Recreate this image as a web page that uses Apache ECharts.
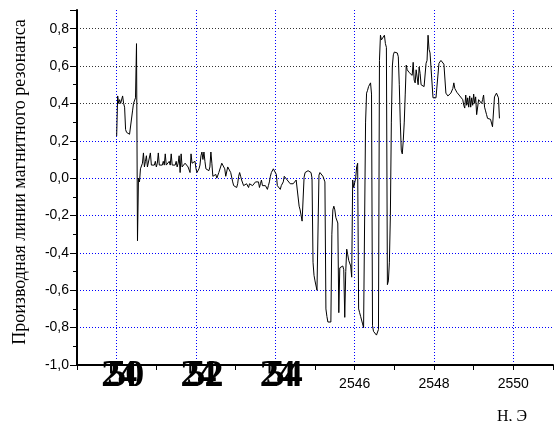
<!DOCTYPE html>
<html>
<head>
<meta charset="utf-8">
<script src="https://cdn.jsdelivr.net/npm/echarts@6/dist/echarts.min.js"></script>
<style>html,body{margin:0;padding:0;background:#fff;}#chart{width:556px;height:421px;}</style>
</head>
<body>
<div id="chart"></div>
<script>
// Field H, Oe
const fieldH = [
2540,2540.025,2540.05,2540.075,2540.1,2540.125,2540.15,2540.175,2540.2,2540.225,2540.25,2540.275,2540.3,2540.325,2540.35,2540.375,2540.4,2540.425,2540.45,2540.475,2540.5,2540.525,2540.55,2540.575,2540.6,2540.625,2540.65,2540.675,2540.7,2540.725,2540.75,2540.775,2540.8,2540.825,2540.85,2540.875,2540.9,2540.925,2540.95,2540.975,
2541,2541.025,2541.05,2541.075,2541.1,2541.125,2541.15,2541.175,2541.2,2541.225,2541.25,2541.275,2541.3,2541.325,2541.35,2541.375,2541.4,2541.425,2541.45,2541.475,2541.5,2541.525,2541.55,2541.575,2541.6,2541.625,2541.65,2541.675,2541.7,2541.725,2541.75,2541.775,2541.8,2541.825,2541.85,2541.875,2541.9,2541.925,2541.95,2541.975,
2542,2542.025,2542.05,2542.075,2542.1,2542.125,2542.15,2542.175,2542.2,2542.225,2542.25,2542.275,2542.3,2542.325,2542.35,2542.375,2542.4,2542.425,2542.45,2542.475,2542.5,2542.525,2542.55,2542.575,2542.6,2542.625,2542.65,2542.675,2542.7,2542.725,2542.75,2542.775,2542.8,2542.825,2542.85,2542.875,2542.9,2542.925,2542.95,2542.975,
2543,2543.025,2543.05,2543.075,2543.1,2543.125,2543.15,2543.175,2543.2,2543.225,2543.25,2543.275,2543.3,2543.325,2543.35,2543.375,2543.4,2543.425,2543.45,2543.475,2543.5,2543.525,2543.55,2543.575,2543.6,2543.625,2543.65,2543.675,2543.7,2543.725,2543.75,2543.775,2543.8,2543.825,2543.85,2543.875,2543.9,2543.925,2543.95,2543.975,
2544,2544.025,2544.05,2544.075,2544.1,2544.125,2544.15,2544.175,2544.2,2544.225,2544.25,2544.275,2544.3,2544.325,2544.35,2544.375,2544.4,2544.425,2544.45,2544.475,2544.5,2544.525,2544.55,2544.575,2544.6,2544.625,2544.65,2544.675,2544.7,2544.725,2544.75,2544.775,2544.8,2544.825,2544.85,2544.875,2544.9,2544.925,2544.95,2544.975,
2545,2545.025,2545.05,2545.075,2545.1,2545.125,2545.15,2545.175,2545.2,2545.225,2545.25,2545.275,2545.3,2545.325,2545.35,2545.375,2545.4,2545.425,2545.45,2545.475,2545.5,2545.525,2545.55,2545.575,2545.6,2545.625,2545.65,2545.675,2545.7,2545.725,2545.75,2545.775,2545.8,2545.825,2545.85,2545.875,2545.9,2545.925,2545.95,2545.975,
2546,2546.025,2546.05,2546.075,2546.1,2546.125,2546.15,2546.175,2546.2,2546.225,2546.25,2546.275,2546.3,2546.325,2546.35,2546.375,2546.4,2546.425,2546.45,2546.475,2546.5,2546.525,2546.55,2546.575,2546.6,2546.625,2546.65,2546.675,2546.7,2546.725,2546.75,2546.775,2546.8,2546.825,2546.85,2546.875,2546.9,2546.925,2546.95,2546.975,
2547,2547.025,2547.05,2547.075,2547.1,2547.125,2547.15,2547.175,2547.2,2547.225,2547.25,2547.275,2547.3,2547.325,2547.35,2547.375,2547.4,2547.425,2547.45,2547.475,2547.5,2547.525,2547.55,2547.575,2547.6,2547.625,2547.65,2547.675,2547.7,2547.725,2547.75,2547.775,2547.8,2547.825,2547.85,2547.875,2547.9,2547.925,2547.95,2547.975,
2548,2548.025,2548.05,2548.075,2548.1,2548.125,2548.15,2548.175,2548.2,2548.225,2548.25,2548.275,2548.3,2548.325,2548.35,2548.375,2548.4,2548.425,2548.45,2548.475,2548.5,2548.525,2548.55,2548.575,2548.6,2548.625,2548.65,2548.675,2548.7,2548.725,2548.75,2548.775,2548.8,2548.825,2548.85,2548.875,2548.9,2548.925,2548.95,2548.975,
2549,2549.025,2549.05,2549.075,2549.1,2549.125,2549.15,2549.175,2549.2,2549.225,2549.25,2549.275,2549.3,2549.325,2549.35,2549.375,2549.4,2549.425,2549.45,2549.475,2549.5,2549.525,2549.55,2549.575,2549.6,2549.625,2549.65
];

// Derivative of the magnetic resonance line
const signal = [
0.225,0.44,0.40,0.42,0.40,0.39,0.44,0.40,0.38,0.26,
0.245,0.24,0.24,0.235,0.23,0.24,0.36,0.40,0.41,0.43,
0.72,-0.335,0.0,-0.02,0.05,0.06,0.08,0.135,0.06,0.09,
0.12,0.06,0.05,
0.06,0.135,0.07,0.08,0.06,0.07,0.09,0.06,0.08,0.135,
0.07,0.08,0.06,0.07,0.09,0.07,0.13,0.07,0.08,0.06,
0.09,0.07,0.13,0.07,0.08,0.06,0.07,0.09,0.06,0.08,
0.12,0.03,0.13,0.06,0.07,0.06,0.08,0.07,0.09,0.06,
0.07,0.03,0.13,0.08,0.07,0.08,0.09,0.05,0.03,0.04,
0.05,0.07,0.12,0.14,0.10,0.14,0.09,0.05,0.04,0.05,
0.04,0.06,0.14,0.08,0.01,0.01,0.00,0.02,0.00,0.01,
0.03,0.02,0.03,0.08,0.08,0.07,0.05,0.01,0.00,0.06,
0.07,0.06,0.03,0.02,-0.02,-0.04,-0.05,-0.04,-0.05,-0.03,
0.01,0.03,0.01,-0.01,-0.02,-0.04,-0.03,-0.05,-0.03,
-0.02,-0.05,-0.03,-0.04,-0.02,-0.04,-0.03,-0.05,-0.02,-0.01,
-0.03,-0.02,-0.05,-0.03,-0.01,-0.04,-0.03,-0.05,-0.04,-0.05,
-0.06,-0.04,-0.02,0.01,0.03,0.04,0.05,0.04,0.05,0.02,
-0.04,-0.05,-0.04,-0.06,-0.04,-0.03,-0.02,0.01,0.0,0.0,
-0.01,-0.02,-0.02,-0.03,-0.02,-0.04,-0.03,-0.02,-0.02,-0.01,
-0.01,0.0,-0.15,-0.17,-0.18,-0.23,-0.235,0.005,0.03,0.02,
0.03,0.04,0.03,0.04,0.03,0.0,-0.45,-0.52,-0.55,-0.56,
-0.60,-0.59,0.016,0.03,0.025,0.02,0.01,0.0,-0.02,-0.70,
-0.74,-0.77,-0.77,-0.78,-0.77,-0.3,-0.17,-0.15,-0.17,-0.21,
-0.22,-0.24,-0.72,-0.48,-0.49,-0.48,-0.47,-0.49,-0.745,-0.5,
-0.38,-0.41,-0.44,-0.45,-0.47,-0.53,-0.01,-0.05,-0.04,0.0,
0.06,0.08,-0.70,-0.72,-0.74,-0.75,-0.78,-0.80,-0.80,0.30,
0.455,0.47,0.49,0.50,0.51,0.45,-0.79,-0.82,-0.83,-0.83,
-0.84,-0.84,-0.81,0.63,0.765,0.74,0.75,0.745,0.765,0.72,
0.70,-0.57,-0.55,-0.45,-0.2,0.3,0.6,0.66,0.675,0.67,
0.675,0.67,0.65,0.5,0.3,0.15,0.13,0.2,0.3,0.45,
0.605,0.58,0.57,0.565,0.57,0.56,0.55,0.62,0.525,0.51,
0.58,0.59,0.50,0.595,0.56,0.50,0.51,0.49,0.49,0.50,
0.615,0.63,0.765,0.69,0.67,0.68,0.66,0.43,0.44,0.42,
0.43,0.42,0.44,0.615,0.62,0.63,0.62,0.62,0.61,0.605,
0.455,0.445,0.44,0.45,0.445,0.455,0.46,0.48,0.51,0.48,
0.47,0.46,0.45,0.455,0.44,0.43,0.43,0.42,0.39,0.375,
0.445,0.39,0.43,0.38,0.44,0.38,0.43,0.39,0.45,0.40,
0.435,0.34,0.337,0.42,0.42,0.41,0.40,0.42,0.445,0.38,
0.36,0.34,0.32,0.32,0.315,0.315,0.31,0.275,0.28,0.435,
0.44,0.455,0.45,0.43,0.32
];

// Tick labels
const plainXLabels = [2546, 2548, 2550];
const overlapXLabels = [2540, 2542, 2544];
const yTickValues = [-1.0, -0.8, -0.6, -0.4, -0.2, 0.0, 0.2, 0.4, 0.6, 0.8];
const yAxisTitle = 'Производная линии магнитного резонанса';
const xAxisTitle = 'H, Э';

const n = Math.min(fieldH.length, signal.length);
const points = [];
for (let i = 0; i < n; i++) points.push([fieldH[i], signal[i]]);

const BLUE = '#0000ff';
const DARK = '#333333';
const T = 'rgba(0,0,0,0)';

const common = {
  type: 'value', min: 2539, max: 2551, interval: 1, position: 'bottom', gridIndex: 0
};

const digitShift = [-6, 0, 11, 18];
const digitAxes = digitShift.map((d, k) => ({
  ...common,
  axisLine: { show: false, onZero: false },
  axisTick: { show: false },
  splitLine: { show: false },
  axisLabel: {
    margin: -8,
    formatter: v => {
      const r = Math.round(v);
      return overlapXLabels.indexOf(r) >= 0 ? '{d|' + String(r)[k] + '}' : '';
    },
    rich: {
      d: {
        fontFamily: 'Liberation Serif', fontSize: 38, fontWeight: 'bold', color: '#000',
        padding: d > 0 ? [0, 0, 0, 2 * d] : [0, -2 * d, 0, 0]
      }
    }
  }
}));

const chart = echarts.init(document.getElementById('chart'), null, { renderer: 'canvas' });
chart.setOption({
  animation: false,
  backgroundColor: '#fff',
  grid: { left: 77, top: 10, width: 482, height: 355, containLabel: false },
  title: {
    text: xAxisTitle, left: 492, top: 404,
    textStyle: { fontFamily: 'Liberation Serif', fontSize: 16, fontWeight: 'normal', color: '#000' }
  },
  xAxis: [
    {
      ...common,
      axisLine: { onZero: false, lineStyle: { color: '#000', width: 2 } },
      axisTick: { length: 5, lineStyle: { color: '#000', width: 1 } },
      splitLine: {
        show: true, showMaxLine: false,
        lineStyle: { color: [T, BLUE], type: [1, 2], width: 1 }
      },
      axisLabel: {
        margin: 12, color: '#000', fontFamily: 'Liberation Sans', fontSize: 14,
        formatter: v => plainXLabels.indexOf(Math.round(v)) >= 0 ? String(Math.round(v)) : ''
      }
    },
    ...digitAxes
  ],
  yAxis: {
    type: 'value', min: -1.0, max: 0.9, interval: 0.2,
    name: yAxisTitle, nameLocation: 'middle', nameGap: 48,
    nameTextStyle: { fontFamily: 'Liberation Serif', fontSize: 18, color: '#000', padding: [0, 0, 0, 11] },
    axisLine: { onZero: false, lineStyle: { color: '#000', width: 2 } },
    axisTick: { length: 7, lineStyle: { color: '#000', width: 1 } },
    minorTick: { show: true, splitNumber: 2, length: 4, lineStyle: { color: '#000', width: 1 } },
    splitLine: {
      show: true, showMaxLine: false,
      lineStyle: { color: [BLUE, BLUE, BLUE, BLUE, BLUE, BLUE, BLUE, DARK, DARK, DARK, T], type: [1, 2], width: 1 }
    },
    axisLabel: {
      margin: 8, color: '#000', fontFamily: 'Liberation Sans', fontSize: 14,
      formatter: v => {
        const hit = yTickValues.find(t => Math.abs(t - v) < 1e-6);
        return hit === undefined ? '' : hit.toFixed(1).replace('.', ',');
      }
    }
  },
  series: [{
    type: 'line', xAxisIndex: 0, yAxisIndex: 0, data: points,
    showSymbol: false, symbol: 'none',
    lineStyle: { color: '#000', width: 1 }
  }]
});
</script>
</body>
</html>
